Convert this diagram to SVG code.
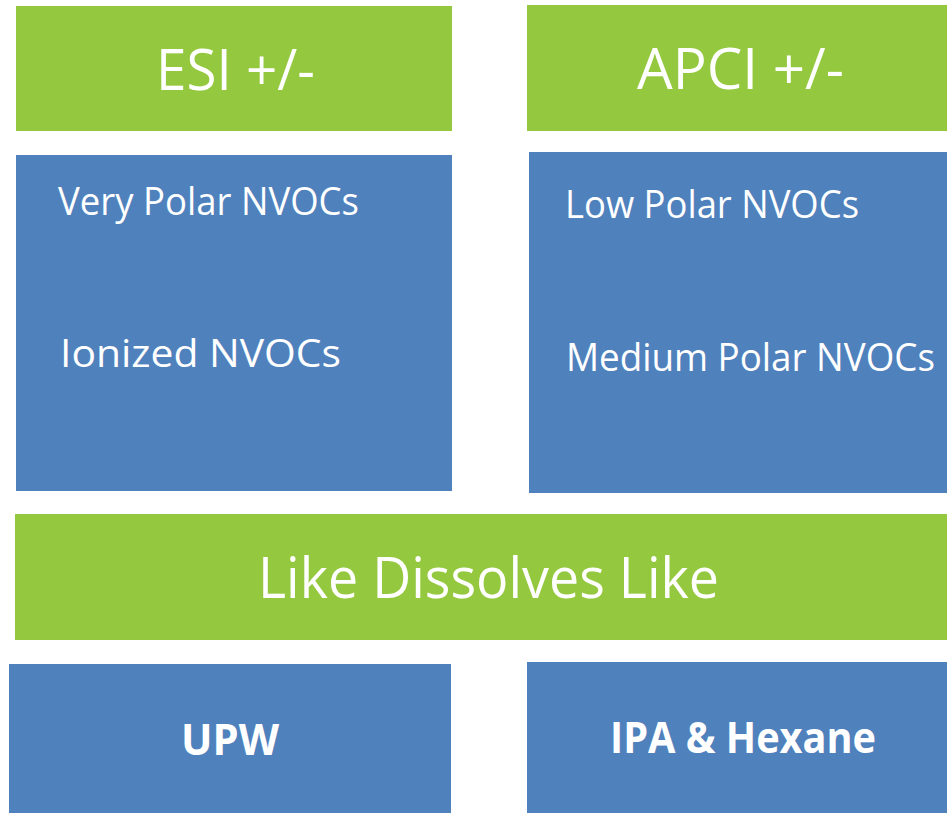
<svg xmlns="http://www.w3.org/2000/svg" width="947" height="813" viewBox="0 0 947 813">
  <style>
    .green { fill: #94C83F; }
    .blue { fill: #4F81BD; }
    text { fill: #FFFFFF; font-family: "Open Sans", "Noto Sans", "Liberation Sans", sans-serif; }
    .title { font-size: 56px; }
    .item { font-size: 38px; }
    .solvent { font-size: 43px; font-weight: bold; }
  </style>
  <rect width="947" height="813" fill="#FFFFFF"/>

  <g id="esi">
    <rect class="green" x="16" y="6" width="436" height="125"/>
    <text class="title" x="156" y="90" textLength="159" lengthAdjust="spacingAndGlyphs">ESI +/-</text>
  </g>

  <g id="apci">
    <rect class="green" x="527" y="5" width="420" height="126"/>
    <text class="title" x="637" y="89" textLength="207" lengthAdjust="spacingAndGlyphs">APCI +/-</text>
  </g>

  <g id="esi-analytes">
    <rect class="blue" x="16" y="155" width="436" height="336"/>
    <text class="item" x="58" y="215" textLength="301" lengthAdjust="spacingAndGlyphs">Very Polar NVOCs</text>
    <text class="item" x="60" y="367" font-size="41" textLength="281" lengthAdjust="spacingAndGlyphs">Ionized NVOCs</text>
  </g>

  <g id="apci-analytes">
    <rect class="blue" x="529" y="152" width="418" height="341"/>
    <text class="item" x="565" y="218" textLength="294" lengthAdjust="spacingAndGlyphs">Low Polar NVOCs</text>
    <text class="item" x="566" y="371" textLength="369" lengthAdjust="spacingAndGlyphs">Medium Polar NVOCs</text>
  </g>

  <g id="like-dissolves-like">
    <rect class="green" x="15" y="514" width="932" height="126"/>
    <text class="title" x="258" y="598" textLength="461" lengthAdjust="spacingAndGlyphs">Like Dissolves Like</text>
  </g>

  <g id="upw">
    <rect class="blue" x="9" y="664" width="442" height="149"/>
    <text class="solvent" x="181" y="755" textLength="98" lengthAdjust="spacingAndGlyphs">UPW</text>
  </g>

  <g id="ipa-hexane">
    <rect class="blue" x="527" y="662" width="420" height="151"/>
    <text class="solvent" x="610" y="753" textLength="266" lengthAdjust="spacingAndGlyphs">IPA &amp; Hexane</text>
  </g>

  <g id="connectors"/>
</svg>
